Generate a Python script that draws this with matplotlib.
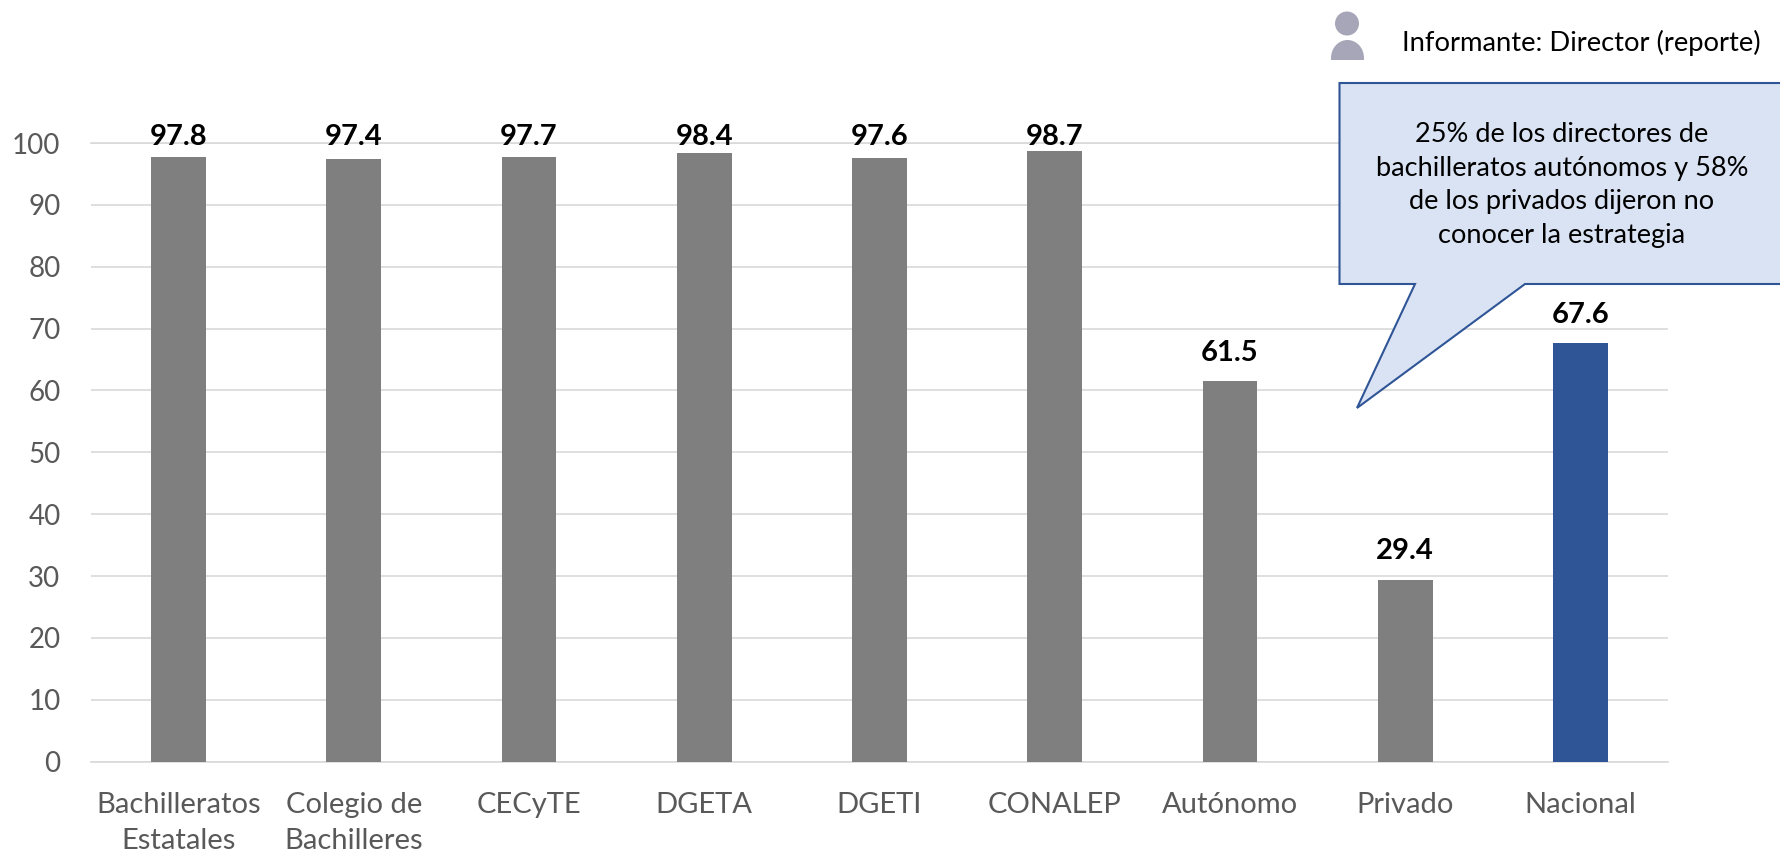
import matplotlib
matplotlib.use("Agg")
import matplotlib.pyplot as plt
from matplotlib.patches import Circle, Ellipse, Polygon, Rectangle

plt.rcParams['font.family'] = ['Lato', 'DejaVu Sans']

# data
categories = ['Bachilleratos\nEstatales', 'Colegio de\nBachilleres', 'CECyTE', 'DGETA',
              'DGETI', 'CONALEP', 'Autónomo', 'Privado', 'Nacional']
values = [97.8, 97.4, 97.7, 98.4, 97.6, 98.7, 61.5, 29.4, 67.6]
bar_colors = ['#7f7f7f'] * 8 + ['#2f5597']
y_ticks = list(range(0, 101, 10))

informant = 'Informante: Director (reporte)'
callout = ('25% de los directores de\nbachilleratos autónomos y 58%\n'
           'de los privados dijeron no\nconocer la estrategia')

W, H = 1781, 855
fig = plt.figure(figsize=(W / 100, H / 100), dpi=100)

# ------------------------------
# Bars
# ------------------------------
left, right, y0, y100 = 91, 1668, 761.7, 143
ax = fig.add_axes([left / W, 1 - y0 / H, (right - left) / W, (y0 - y100) / H])
x = list(range(len(categories)))
ax.bar(x, values, width=0.313, color=bar_colors, zorder=3)
for xi, v in zip(x, values):
    # labels near the top of the plot sit closer to their bars
    ax.text(xi, min(v + 4.6, 100.9), f'{v:.1f}', ha='center', va='center', fontsize=21,
            fontweight='bold', color='black', zorder=4)

ax.set_xlim(-0.5, len(categories) - 0.5)
ax.set_ylim(0, 100)
ax.set_yticks(y_ticks)
ax.set_xticks(x)
ax.set_xticklabels(categories, linespacing=1.5)
ax.tick_params(axis='both', length=0, labelcolor='#595959')
ax.tick_params(axis='x', pad=21.5, labelsize=21)
ax.tick_params(axis='y', pad=22, labelsize=20)
ax.grid(axis='y', color='#d9d9d9', linewidth=1.2, zorder=0)
ax.set_axisbelow(True)
for spine in ax.spines.values():
    spine.set_visible(False)
ax.axhline(0, color='#d9d9d9', linewidth=1.2, zorder=1, clip_on=False)
ax.axhline(100, color='#d9d9d9', linewidth=1.2, zorder=1, clip_on=False)

# ------------------------------
# Overlay in pixel coordinates: callout and informant icon
# ------------------------------
over = fig.add_axes([0, 0, 1, 1], facecolor='none')
over.set_xlim(0, W)
over.set_ylim(H, 0)
over.axis('off')

shape = [(1339.5, 83), (1790, 83), (1790, 284), (1525, 284), (1357, 408), (1415, 284), (1339.5, 284)]
over.add_patch(Polygon(shape, closed=True, facecolor='#dae3f3', edgecolor='#2f5597',
                       linewidth=1.5, joinstyle='miter', zorder=5))
over.text(1562, 185, callout, ha='center', va='center', fontsize=19.5, color='black',
          linespacing=1.43, zorder=6)

icon_color = '#a6a6b8'
over.add_patch(Circle((1347, 23.5), 12, facecolor=icon_color, edgecolor='none'))
over.add_patch(Ellipse((1347.5, 58), 33, 36, facecolor=icon_color, edgecolor='none'))
over.add_patch(Rectangle((1325, 60), 45, 20, facecolor='white', edgecolor='none', zorder=2))
over.text(1402, 43, informant, ha='left', va='center', fontsize=19.75, color='black')

fig.savefig('out.png', dpi=100)
plt.close()
